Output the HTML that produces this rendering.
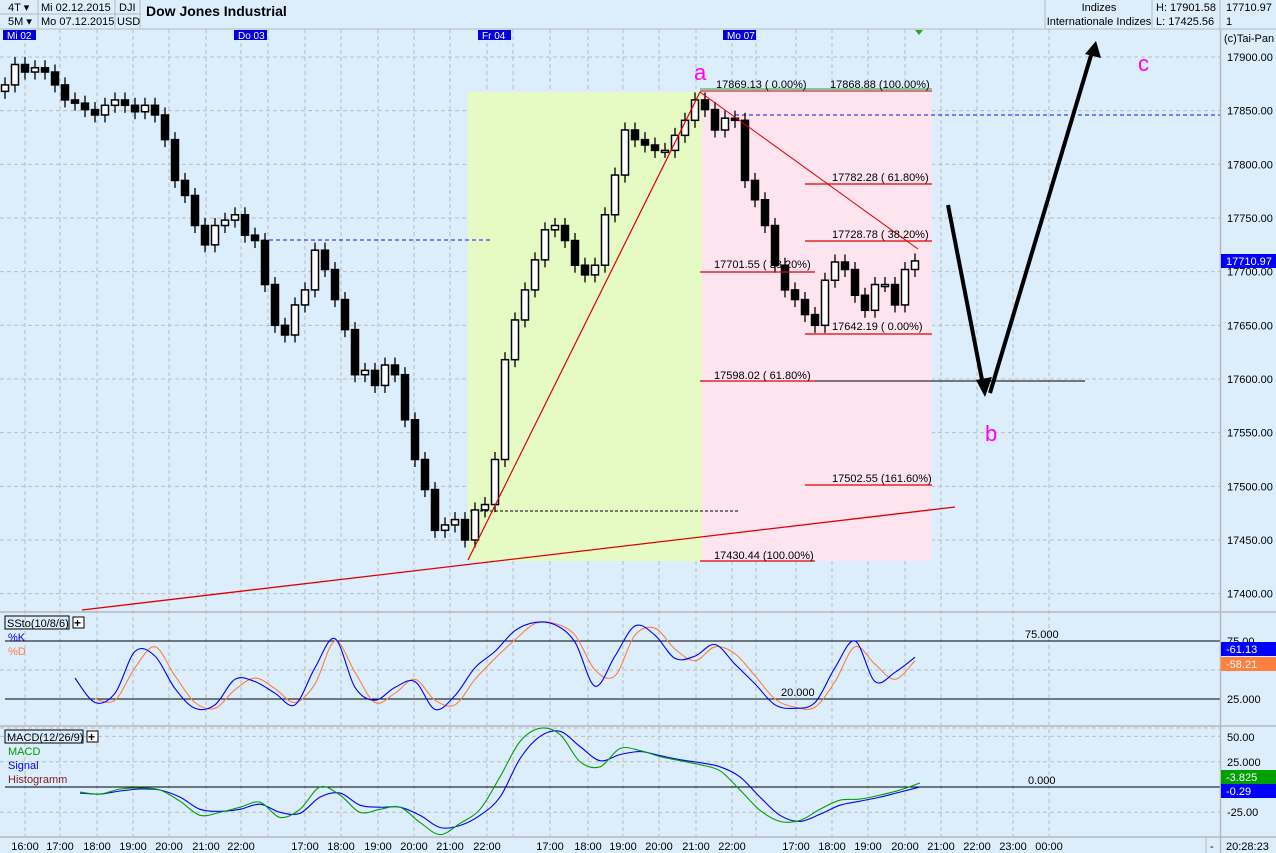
<!DOCTYPE html>
<html><head><meta charset="utf-8"><style>
html,body{margin:0;padding:0;background:#dcedfc;}
svg{display:block;font-family:"Liberation Sans",Arial,sans-serif;}
</style></head><body>
<svg id="c" width="1276" height="853" viewBox="0 0 1276 853" xmlns="http://www.w3.org/2000/svg">
<rect x="0" y="0" width="1276" height="853" fill="#dcedfc"/>
<g id="grid"></g>
<g font-size="11" fill="#000">
<line x1="0" y1="29" x2="1276" y2="29" stroke="#b8b8b8"/>
<line x1="0" y1="14" x2="140" y2="14" stroke="#b8b8b8"/>
<line x1="38" y1="0" x2="38" y2="28" stroke="#b8b8b8"/>
<line x1="115" y1="0" x2="115" y2="28" stroke="#b8b8b8"/>
<line x1="140" y1="0" x2="140" y2="28" stroke="#b8b8b8"/>
<line x1="1045" y1="0" x2="1045" y2="28" stroke="#b8b8b8"/>
<line x1="1152" y1="0" x2="1152" y2="28" stroke="#b8b8b8"/>
<line x1="1220" y1="0" x2="1220" y2="28" stroke="#b8b8b8"/>
<text x="8" y="11">4T ▾</text>
<text x="8" y="25">5M ▾</text>
<text x="41" y="11">Mi 02.12.2015</text>
<text x="41" y="25">Mo 07.12.2015</text>
<text x="119" y="11">DJI</text>
<text x="117" y="25">USD</text>
<text x="146" y="16" font-size="14" font-weight="bold">Dow Jones Industrial</text>
<text x="1099" y="11" text-anchor="middle">Indizes</text>
<text x="1099" y="25" text-anchor="middle">Internationale Indizes</text>
<text x="1156" y="11">H: 17901.58</text>
<text x="1156" y="25">L: 17425.56</text>
<text x="1226" y="11">17710.97</text>
<text x="1226" y="25">1</text>
</g>
<g id="overlay"></g>
<g id="candles"></g>
<g id="annot"></g>
<g id="ind"></g>
<g id="axes" font-size="11"></g>
</svg>
<script>
const closes=[17874,17893,17886,17890,17886,17874,17860,17857,17851,17846,17855,17860,17855,17849,17855,17846,17823,17785,17771,17743,17725,17743,17748,17753,17734,17729,17688,17650,17641,17669,17683,17720,17702,17674,17646,17604,17608,17594,17613,17604,17562,17525,17497,17459,17464,17469,17450,17478,17483,17525,17618,17655,17683,17711,17739,17743,17729,17706,17697,17706,17753,17790,17832,17823,17818,17813,17813,17827,17841,17860,17851,17832,17843,17841,17785,17767,17743,17706,17683,17674,17660,17650,17692,17709,17702,17678,17664,17688,17688,17669,17702,17710];
const priceTicks=[17900,17850,17800,17750,17700,17650,17600,17550,17500,17450,17400];
const stochK=[43,22,30,66,62,34,17,20,42,40,30,20,52,77,35,24,35,40,16,28,52,66,84,91,89,74,36,62,88,80,60,62,72,55,38,20,17,22,52,75,40,48,61];
const stochD=[null,25,24,52,70,45,22,17,33,43,34,22,38,75,48,22,30,42,24,20,42,60,76,90,90,80,50,45,80,86,68,58,70,64,45,25,18,18,40,70,55,42,58];
const macd=[-5,-7,-2,-1,-3,-14,-28,-25,-20,-15,-30,-22,0,-8,-25,-22,-20,-35,-47,-36,-22,10,45,58,52,25,20,38,36,30,26,22,16,-3,-23,-34,-33,-22,-13,-12,-8,-3,4];
const signal=[-6,-7,-4,-2,-3,-10,-22,-24,-22,-17,-25,-26,-10,-6,-18,-20,-20,-28,-40,-38,-28,-10,28,50,55,40,26,32,35,31,27,24,20,10,-10,-28,-34,-27,-18,-14,-10,-5,0];
const timeLabels=["16:00","17:00","18:00","19:00","20:00","21:00","22:00","17:00","18:00","19:00","20:00","21:00","22:00","17:00","18:00","19:00","20:00","21:00","22:00","17:00","18:00","19:00","20:00","21:00","22:00","23:00","00:00"];
const timeX=[25,60,97,133,169,206,241,305,341,378,414,450,487,550,588,623,659,696,732,796,832,868,905,941,977,1013,1049];
const dayLabels=["Mi 02","Do 03","Fr 04","Mo 07"];
const dayX=[3,234,478,723];

const NS="http://www.w3.org/2000/svg";
function el(tag,attrs,parent,text){const e=document.createElementNS(NS,tag);for(const k in attrs)e.setAttribute(k,attrs[k]);if(text!==undefined)e.textContent=text;parent.appendChild(e);return e;}
const yP=p=>57+(17900-p)*1.0733;
const xC=i=>5+10*i;
const yS=v=>641+(75-v)*1.16;
const xI=i=>75+20*i;
const yM=v=>787-v*1.012;
const xM=i=>80+20*i;

const grid=document.getElementById('grid');
timeX.forEach((x,i)=>{const l=el('line',{x1:x,y1:29,x2:x,y2:836,stroke:'#bdbdbd','stroke-dasharray':'4,3'},grid);
});
[268,513,756].forEach((x,i)=>{const l=el('line',{x1:x,y1:29,x2:x,y2:836,stroke:'#bdbdbd','stroke-dasharray':'4,3'},grid);
});
priceTicks.forEach(p=>{const l=el('line',{x1:0,y1:yP(p),x2:1220,y2:yP(p),stroke:'#bdbdbd','stroke-dasharray':'4,3'},grid);
});
[50,0].forEach(v=>{const l=el('line',{x1:0,y1:yS(v),x2:1220,y2:yS(v),stroke:'#bdbdbd','stroke-dasharray':'4,3'},grid);
});
[50,25,-25].forEach(v=>{const l=el('line',{x1:0,y1:yM(v),x2:1220,y2:yM(v),stroke:'#bdbdbd','stroke-dasharray':'4,3'},grid);
});

const ov=document.getElementById('overlay');
function ovAdd(tag,attrs,name,text){const e=el(tag,attrs,ov,text);return e;}
ovAdd('rect',{x:468,y:92,width:234,height:469,fill:'#e6fbc4'},'up-zone');
ovAdd('rect',{x:702,y:92,width:230,height:469,fill:'#fde4ef'},'down-zone');
ovAdd('line',{x1:255,y1:240,x2:492,y2:240,stroke:'#1010ff','stroke-dasharray':'4,3'},'resistance-1');
ovAdd('line',{x1:735,y1:115,x2:1220,y2:115,stroke:'#1010ff','stroke-dasharray':'4,3'},'resistance-2');
ovAdd('line',{x1:470,y1:511,x2:740,y2:511,stroke:'#000','stroke-dasharray':'3,2'},'support-dashed');

const ann=document.getElementById('annot');
function aAdd(tag,attrs,name,text){const e=el(tag,attrs,ann,text);return e;}
aAdd('line',{x1:82,y1:610,x2:955,y2:507,stroke:'#e00000','stroke-width':1.3},'trendline');
aAdd('line',{x1:468,y1:560,x2:700,y2:92,stroke:'#e00000','stroke-width':1.2},'up-leg');
aAdd('line',{x1:700,y1:92,x2:918,y2:249,stroke:'#e00000','stroke-width':1},'down-leg');
aAdd('line',{x1:700,y1:91,x2:932,y2:91,stroke:'#e00000'},'fib-100');
aAdd('line',{x1:700,y1:89,x2:932,y2:89,stroke:'#30a030'},'fib-top-green');
[[805,184,'fib-61'],[805,241,'fib-38'],[700,272,'fib-38b'],[805,334,'fib-0'],[700,381,'fib-61b'],[805,485,'fib-161'],[700,561,'fib-100b']].forEach(a=>{
 aAdd('line',{x1:a[0],y1:a[1],x2:a[0]===805?932:815,y2:a[1],stroke:'#e00000','stroke-width':1.3},a[2]);});
aAdd('line',{x1:815,y1:381,x2:1085,y2:381,stroke:'#000'},'target-line');
const fibT=[[716,88,'17869.13 (  0.00%)'],[830,88,'17868.88 (100.00%)'],[832,181,'17782.28 ( 61.80%)'],[832,238,'17728.78 ( 38.20%)'],[714,268,'17701.55 ( 38.20%)'],[832,330,'17642.19 (  0.00%)'],[714,379,'17598.02 ( 61.80%)'],[832,482,'17502.55 (161.60%)'],[714,559,'17430.44 (100.00%)']];
fibT.forEach(t=>aAdd('text',{x:t[0],y:t[1],'font-size':11,fill:'#000'},'fib-label',t[2]));
aAdd('text',{x:694,y:80,'font-size':22,fill:'#ff00ff'},'wave-a','a');
aAdd('text',{x:985,y:441,'font-size':22,fill:'#ff00ff'},'wave-b','b');
aAdd('text',{x:1138,y:71,'font-size':22,fill:'#ff00ff'},'wave-c','c');
aAdd('line',{x1:948,y1:205,x2:983,y2:385,stroke:'#000','stroke-width':4},'arrow-down');
aAdd('polygon',{points:'976,380 985,397 992,377',fill:'#000'},'arrow-down-head');
aAdd('line',{x1:990,y1:393,x2:1092,y2:52,stroke:'#000','stroke-width':4},'arrow-up');
aAdd('polygon',{points:'1085,54 1096,41 1101,58',fill:'#000'},'arrow-up-head');

const cg=document.getElementById('candles');
closes.forEach((c,i)=>{
 const o=i===0?c-6:closes[i-1];const x=xC(i);
 const hi=Math.max(o,c)+7,lo=Math.min(o,c)-7;
 const w=el('line',{x1:x,y1:yP(hi),x2:x,y2:yP(lo),stroke:'#000','stroke-width':1.3},cg);
 
 const top=yP(Math.max(o,c)),h=Math.max(2,Math.abs(yP(o)-yP(c)));
 const b=el('rect',{x:x-3.5,y:top,width:7,height:h,fill:c>=o?'#fff':'#000',stroke:'#000','stroke-width':1.5},cg);
 
});

const ind=document.getElementById('ind');
function iAdd(tag,attrs,name,text){const e=el(tag,attrs,ind,text);return e;}
iAdd('line',{x1:0,y1:612,x2:1276,y2:612,stroke:'#b8b8b8','stroke-width':1.5},'stoch-divider');
iAdd('line',{x1:0,y1:726,x2:1276,y2:726,stroke:'#b8b8b8','stroke-width':1.5},'macd-divider');
iAdd('line',{x1:0,y1:837,x2:1276,y2:837,stroke:'#b8b8b8','stroke-width':1.5},'time-divider');
iAdd('line',{x1:5,y1:yS(75),x2:1220,y2:yS(75),stroke:'#000'},'stoch-75');
iAdd('line',{x1:5,y1:yS(25),x2:1220,y2:yS(25),stroke:'#000'},'stoch-25');
iAdd('line',{x1:5,y1:yM(0),x2:1220,y2:yM(0),stroke:'#000'},'macd-zero');
iAdd('text',{x:1025,y:638,'font-size':11},'stoch-75-label','75.000');
iAdd('text',{x:781,y:696,'font-size':11},'stoch-20-label','20.000');
iAdd('text',{x:1028,y:784,'font-size':11},'macd-0-label','0.000');
function path(arr,xf,yf){
 const pts=[];arr.forEach((v,i)=>{if(v!==null)pts.push([xf(i),yf(v)]);});
 let d='M'+pts[0][0].toFixed(1)+','+pts[0][1].toFixed(1);
 for(let i=0;i<pts.length-1;i++){
  const p0=pts[Math.max(0,i-1)],p1=pts[i],p2=pts[i+1],p3=pts[Math.min(pts.length-1,i+2)];
  const c1=[p1[0]+(p2[0]-p0[0])/6,p1[1]+(p2[1]-p0[1])/6],c2=[p2[0]-(p3[0]-p1[0])/6,p2[1]-(p3[1]-p1[1])/6];
  d+='C'+c1[0].toFixed(1)+','+c1[1].toFixed(1)+' '+c2[0].toFixed(1)+','+c2[1].toFixed(1)+' '+p2[0].toFixed(1)+','+p2[1].toFixed(1);
 }
 return d;}
iAdd('path',{d:path(stochD,xI,yS),fill:'none',stroke:'#ff7f3f','stroke-width':1.1},'stoch-d-line');
iAdd('path',{d:path(stochK,xI,yS),fill:'none',stroke:'#0000ff','stroke-width':1.1},'stoch-k-line');
iAdd('path',{d:path(signal,xM,yM),fill:'none',stroke:'#0000ff','stroke-width':1.1},'macd-signal-line');
iAdd('path',{d:path(macd,xM,yM),fill:'none',stroke:'#00a000','stroke-width':1.1},'macd-line');
iAdd('rect',{x:5,y:616,width:64,height:13,fill:'none',stroke:'#000'},'stoch-title-box');
iAdd('text',{x:7,y:627,'font-size':11},'stoch-title','SSto(10/8/6)');
iAdd('rect',{x:73,y:617,width:11,height:11,fill:'#fff',stroke:'#000'},'stoch-add-button');
iAdd('text',{x:74,y:627,'font-size':12,'font-weight':'bold'},'stoch-add-icon','+');
iAdd('text',{x:8,y:641,'font-size':11,fill:'#0000ff'},'legend-k','%K');
iAdd('text',{x:8,y:655,'font-size':11,fill:'#ff7f3f'},'legend-d','%D');
iAdd('rect',{x:5,y:730,width:78,height:13,fill:'none',stroke:'#000'},'macd-title-box');
iAdd('text',{x:7,y:741,'font-size':11},'macd-title','MACD(12/26/9)');
iAdd('rect',{x:87,y:731,width:11,height:11,fill:'#fff',stroke:'#000'},'macd-add-button');
iAdd('text',{x:88,y:741,'font-size':12,'font-weight':'bold'},'macd-add-icon','+');
iAdd('text',{x:8,y:755,'font-size':11,fill:'#00a000'},'legend-macd','MACD');
iAdd('text',{x:8,y:769,'font-size':11,fill:'#0000ff'},'legend-signal','Signal');
iAdd('text',{x:8,y:783,'font-size':11,fill:'#802020'},'legend-histogram','Histogramm');

const ax=document.getElementById('axes');
function xAdd(tag,attrs,name,text){const e=el(tag,attrs,ax,text);return e;}
xAdd('line',{x1:1220.5,y1:29,x2:1220.5,y2:853,stroke:'#b8b8b8','stroke-width':1.5},'y-axis-line');
xAdd('text',{x:1224,y:42},'copyright','(c)Tai-Pan');
priceTicks.forEach(p=>xAdd('text',{x:1227,y:yP(p)+4},'price-tick',p.toFixed(2)));
xAdd('rect',{x:1221,y:254,width:55,height:14,fill:'#0000ff'},'last-price-box');
xAdd('text',{x:1226,y:265,fill:'#fff'},'last-price','17710.97');
xAdd('text',{x:1227,y:645},'stoch-tick','75.00');
xAdd('text',{x:1227,y:703},'stoch-tick','25.000');
xAdd('rect',{x:1221,y:642,width:55,height:14,fill:'#0000ff'},'k-value-box');
xAdd('text',{x:1226,y:653,fill:'#fff'},'k-value','-61.13');
xAdd('rect',{x:1221,y:657,width:55,height:14,fill:'#ff7f3f'},'d-value-box');
xAdd('text',{x:1226,y:668,fill:'#fff'},'d-value','-58.21');
xAdd('text',{x:1227,y:741},'macd-tick','50.00');
xAdd('text',{x:1227,y:766},'macd-tick','25.000');
xAdd('text',{x:1227,y:816},'macd-tick','-25.00');
xAdd('rect',{x:1221,y:770,width:55,height:14,fill:'#00a000'},'macd-value-box');
xAdd('text',{x:1226,y:781,fill:'#fff'},'macd-value','-3.825');
xAdd('rect',{x:1221,y:784,width:55,height:14,fill:'#0000ff'},'signal-value-box');
xAdd('text',{x:1226,y:795,fill:'#fff'},'signal-value','-0.29');
timeLabels.forEach((t,i)=>xAdd('text',{x:timeX[i],y:850,'text-anchor':'middle'},'time-tick',t));
xAdd('line',{x1:1206,y1:837,x2:1206,y2:853,stroke:'#b8b8b8'},'time-sep');
xAdd('text',{x:1210,y:850},'time-dash','-');
xAdd('text',{x:1226,y:850},'clock','20:28:23');
dayLabels.forEach((d,i)=>{xAdd('rect',{x:dayX[i],y:30,width:33,height:10,fill:'#0000e0'},'day-marker');
 xAdd('text',{x:dayX[i]+4,y:39,fill:'#fff','font-size':10},'day-label',d);});
xAdd('polygon',{points:'915,30 923,30 919,35',fill:'#30a030'},'now-marker');
</script>
</body></html>
